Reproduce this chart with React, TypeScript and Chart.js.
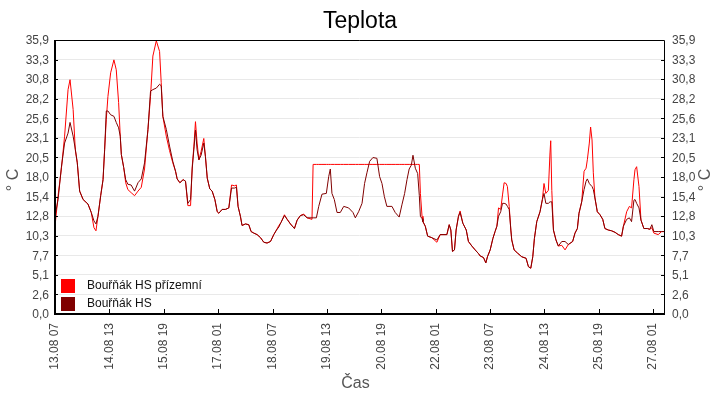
import React, { useEffect, useRef } from 'react';
import Chart from 'chart.js/auto';

// time axis: hours since 13.08 07:00, one tick every 30 h
const xTickLabels = [
  '13.08 07', '14.08 13', '15.08 19', '17.08 01', '18.08 07', '19.08 13',
  '20.08 19', '22.08 01', '23.08 07', '24.08 13', '25.08 19', '27.08 01',
];
const xTickStep = 30;
const xMax = 336;

const yTickLabels = [
  '0,0', '2,6', '5,1', '7,7', '10,3', '12,8', '15,4', '18,0',
  '20,5', '23,1', '25,6', '28,2', '30,8', '33,3', '35,9',
];
const yMax = 35.9;

const seriesNames = ['Bouřňák HS přízemní', 'Bouřňák HS'];
const seriesColors = ['#ff0000', '#800000'];

const hours = [
  0, 1.7, 3.5, 5.3, 7.2, 8.3, 10, 11.2, 12.3, 13.6, 15.5, 18.2, 20, 21.5, 22.6, 23.7,
  25.2, 26.5, 27.4, 28.3, 29.2, 30.7, 32.5, 33.8, 35.1, 36, 36.6, 37.9, 39, 40.2, 42,
  43.9, 45.8, 47.6, 49.4, 51.3, 52.7, 54, 55.9, 57.7, 58.6, 59.5, 61.4, 63.2, 65,
  66.5, 67.4, 68.9, 70.7, 72, 73.3, 74.8, 75.7, 76.6, 77.5, 78.4, 79.4, 80.6, 82.1,
  83, 84, 85.4, 86.7, 88.2, 89.5, 90.4, 92.2, 94, 95.9, 97.4, 99, 100.1, 101, 102.3,
  103.2, 105.1, 106.9, 108.2, 109.7, 111.5, 113.4, 115.2, 117, 118.9, 120.7, 122.2,
  123.5, 124.7, 126.6, 128.1, 129.9, 132.1, 133.6, 135.4, 137.2, 139.1, 141.8, 142.4,
  144.2, 145.5, 147.3, 149.7, 151, 151.9, 152.8, 154.1, 155.6, 157.4, 159.3, 162,
  164.4, 165.7, 167.5, 169.4, 170.8, 172.1, 173.6, 175.4, 177.6, 179.1, 180.4, 181.7,
  183.1, 185.9, 187.7, 189.9, 191.4, 192.9, 194.2, 195.4, 196.6, 197.5, 198.8, 200.1,
  201, 201.6, 202.5, 203, 204.3, 205.6, 207.9, 210.7, 212.5, 216.2, 217.5, 218.4,
  219.3, 220.4, 221.3, 222.6, 223.5, 225, 226.9, 228.1, 230, 231.8, 233.7, 234.6,
  236.4, 237.7, 238.6, 240.1, 241.6, 242.8, 243.8, 244.7, 245.9, 246.9, 247.8, 248.9,
  249.6, 250.6, 251.5, 252, 253.3, 255.1, 257.5, 259.9, 261.2, 262.5, 263.6, 264.5,
  265.8, 267.6, 268.9, 269.8, 270.8, 272.2, 273.1, 273.5, 274.1, 275, 276.4, 277.7,
  279.6, 281.4, 283.2, 285.6, 286.9, 288.2, 289.1, 290.6, 291.9, 293, 293.7, 294.8,
  295.5, 296.3, 297, 297.9, 299.2, 300.7, 302.2, 303.4, 305.3, 307.1, 309, 310.8,
  312.6, 313.6, 315.4, 316.9, 318.1, 319.4, 320, 320.9, 322.2, 323.3, 324.9, 326.8,
  328.2, 329.3, 330.4, 332.8, 334.7, 336,
];

// Bouřňák HS přízemní
const groundTemps = [
  11.5, 15.5, 19.0, 23.3, 29.4, 30.7, 26.8, 21.5, 19.8, 16.1, 15.0, 14.4, 13.3, 11.3, 10.9, 12.8,
  15.5, 17.6, 21.6, 25.5, 28.5, 31.6, 33.3, 32.0, 27.7, 23.3, 20.9, 19.2, 17.2, 16.3, 15.9,
  15.5, 16.1, 16.6, 19.0, 24.2, 28.5, 33.8, 35.8, 34.4, 30.3, 25.9, 23.3, 21.4, 19.8,
  18.7, 17.7, 17.2, 17.6, 17.4, 14.2, 14.2, 19.3, 21.9, 25.2, 22.4, 20.2, 21.3, 23.0,
  20.6, 17.8, 16.4, 16.1, 15.0, 13.4, 13.2, 13.7, 13.7, 13.9, 16.9, 16.8, 16.9, 14.1, 12.8,
  11.6, 11.8, 11.7, 10.8, 10.6, 10.4, 10.0, 9.4, 9.3, 9.5, 10.4, 11.0,
  11.6, 12.0, 13.0, 12.4, 11.8, 11.2, 12.3, 12.9, 13.1, 12.6, 12.4, 19.6,
  19.6, 19.6, 19.6, 19.6, 19.6, 19.6, 19.6, 19.6, 19.6, 19.6, 19.6, 19.6,
  19.6, 19.6, 19.6, 19.6, 19.6, 19.6, 19.6, 19.6, 19.6, 19.6, 19.6, 19.6,
  19.6, 19.6, 19.6, 19.6, 19.6, 19.6, 19.6, 19.6, 19.6, 19.6, 19.6, 19.6,
  19.6, 15.8, 12.8, 12.1, 11.5, 10.2, 10.0, 9.4, 10.4, 10.4, 11.7, 11.0,
  8.2, 8.4, 11.0, 12.8, 13.5, 11.9, 11.0, 9.5, 8.9, 8.4, 7.9, 7.6,
  7.4, 6.7, 7.5, 8.4, 9.9, 10.8, 11.5, 13.9, 13.7, 15.6, 17.2, 17.1,
  16.7, 14.1, 11.0, 9.7, 8.4, 8.0, 7.5, 7.3, 6.2, 6.0, 7.5, 9.9,
  12.1, 13.4, 15.0, 17.1, 15.8, 16.2, 21.1, 22.7, 16.2, 11.0, 9.7, 8.9,
  9.0, 8.4, 9.1, 9.5, 10.6, 11.2, 13.2, 14.7, 18.7, 19.1, 20.2, 22.4,
  24.5, 22.8, 18.5, 15.2, 13.4, 13.0, 12.4, 11.2, 11.0, 10.9, 10.7, 10.4,
  10.2, 11.5, 13.4, 14.1, 13.9, 17.6, 18.9, 19.3, 16.7, 12.3, 11.2, 11.2,
  11.1, 11.3, 10.6, 10.4, 10.8, 10.8,
];

// Bouřňák HS
const hsTemps = [
  12.8, 15.0, 19.2, 22.4, 23.7, 25.1, 23.3, 21.6, 19.8, 16.1, 15.0, 14.4, 13.3, 12.2, 11.8, 12.8,
  15.5, 17.6, 21.6, 26.6, 26.6, 26.1, 25.9, 25.1, 24.4, 23.3, 20.9, 19.2, 17.6, 17.0, 16.9,
  16.1, 17.2, 17.7, 19.8, 24.2, 29.2, 29.4, 29.6, 30.1, 29.9, 25.9, 24.2, 22.0, 20.0,
  18.7, 17.7, 17.2, 17.6, 17.4, 14.5, 15.0, 19.0, 21.5, 24.1, 21.5, 20.2, 20.8, 22.4,
  20.6, 17.8, 16.4, 16.1, 15.0, 13.4, 13.2, 13.7, 13.7, 13.9, 16.5, 16.5, 16.6, 14.1, 12.8,
  11.6, 11.8, 11.7, 10.8, 10.6, 10.4, 10.0, 9.4, 9.3, 9.5, 10.4, 11.0,
  11.4, 12.0, 12.9, 12.4, 11.8, 11.2, 12.3, 12.9, 13.0, 12.6, 12.6, 12.6,
  12.6, 14.1, 15.7, 15.8, 18.0, 19.0, 15.8, 15.0, 13.3, 13.3, 14.1, 13.9,
  13.3, 12.6, 13.4, 14.5, 17.1, 18.5, 20.0, 20.5, 20.4, 18.0, 17.1, 15.4,
  14.1, 14.1, 13.3, 12.7, 14.3, 15.8, 17.6, 19.0, 19.5, 20.8, 19.1, 18.4,
  15.5, 12.8, 12.5, 12.1, 11.5, 10.2, 10.0, 9.7, 10.4, 10.4, 11.7, 11.0,
  8.2, 8.4, 11.0, 12.8, 13.3, 11.9, 11.0, 9.5, 8.9, 8.4, 7.9, 7.6,
  7.4, 6.7, 7.5, 8.4, 9.9, 10.8, 11.5, 12.8, 13.4, 14.5, 14.5, 14.4,
  14.1, 13.7, 11.0, 9.7, 8.4, 8.0, 7.5, 7.3, 6.2, 6.0, 7.5, 9.9,
  12.1, 13.4, 15.0, 15.8, 14.5, 14.5, 14.7, 14.7, 14.7, 11.0, 9.7, 8.9,
  9.5, 9.5, 9.1, 9.5, 10.6, 11.2, 13.2, 14.7, 16.3, 17.4, 17.7, 17.1,
  16.9, 16.7, 16.3, 15.2, 13.4, 13.0, 12.4, 11.2, 11.0, 10.9, 10.7, 10.4,
  10.2, 11.5, 12.4, 12.6, 12.1, 14.9, 15.0, 14.5, 13.9, 12.3, 11.2, 11.2,
  11.1, 11.7, 10.8, 10.8, 10.8, 10.8,
];

const FONT = "'Liberation Sans', Arial, sans-serif";

const fixWidth = (w: number) => (scale: any) => {
  scale.width = w;
};

const framePlugin = {
  id: 'frame',
  afterDraw(chart: any) {
    const { ctx, chartArea: a, scales } = chart;
    ctx.save();
    ctx.strokeStyle = '#000';

    ctx.lineWidth = 1;
    ctx.beginPath();
    ctx.moveTo(a.left, a.top + 0.5);
    ctx.lineTo(a.right + 0.5, a.top + 0.5);
    ctx.lineTo(a.right + 0.5, a.bottom);
    ctx.stroke();

    ctx.lineWidth = 2;
    ctx.beginPath();
    ctx.moveTo(a.left, a.top);
    ctx.lineTo(a.left, a.bottom);
    ctx.lineTo(a.right + 1, a.bottom);
    ctx.stroke();

    // inward tick marks
    ctx.lineWidth = 1;
    ctx.beginPath();
    scales.x.ticks.forEach((t: any) => {
      const px = Math.round(scales.x.getPixelForValue(t.value)) + 0.5;
      ctx.moveTo(px, a.bottom);
      ctx.lineTo(px, a.bottom - 5);
    });
    scales.y.ticks.forEach((t: any) => {
      const py = Math.round(scales.y.getPixelForValue(t.value)) + 0.5;
      ctx.moveTo(a.left, py);
      ctx.lineTo(a.left + 3, py);
      ctx.moveTo(a.right, py);
      ctx.lineTo(a.right - 3, py);
    });
    ctx.stroke();

    // axis titles
    ctx.fillStyle = '#555';
    ctx.font = `16px ${FONT}`;
    ctx.textAlign = 'center';
    ctx.textBaseline = 'middle';
    const midY = (a.top + a.bottom) / 2 + 3;
    [14, 706].forEach((x) => {
      ctx.save();
      ctx.translate(x, midY);
      ctx.rotate(-Math.PI / 2);
      ctx.fillText('° C', 0, 0);
      ctx.restore();
    });
    ctx.fillText('Čas', (a.left + a.right) / 2 - 4, 384);

    // legend in the lower left corner of the plot
    ctx.font = `12px ${FONT}`;
    ctx.textAlign = 'left';
    seriesNames.forEach((name, i) => {
      const top = 279 + i * 18;
      ctx.fillStyle = seriesColors[i];
      ctx.fillRect(61, top, 14, 14);
      ctx.fillStyle = '#111';
      ctx.fillText(name, 87, top + 7);
    });
    ctx.restore();
  },
};

const TemperatureChart: React.FC = () => {
  const canvasRef = useRef<HTMLCanvasElement>(null);

  useEffect(() => {
    const canvas = canvasRef.current;
    let chart: Chart | null = null;

    if (canvas) {
      const toPoints = (vals: number[]) => hours.map((h, i) => ({ x: h, y: vals[i] }));
      chart = new Chart(canvas, {
        type: 'line',
        data: {
          datasets: [
            {
              label: seriesNames[0],
              data: toPoints(groundTemps),
              borderColor: seriesColors[0],
              borderWidth: 1,
              pointRadius: 0,
              tension: 0,
              order: 2,
            },
            {
              label: seriesNames[1],
              data: toPoints(hsTemps),
              borderColor: seriesColors[1],
              borderWidth: 1,
              pointRadius: 0,
              tension: 0,
              order: 1,
            },
          ],
        },
        options: {
          responsive: false,
          animation: false,
          devicePixelRatio: 1,
          layout: { padding: 0 },
          plugins: {
            legend: { display: false },
            tooltip: { enabled: false },
            title: {
              display: true,
              text: 'Teplota',
              color: '#000',
              font: { family: FONT, size: 23, weight: 'normal' },
              padding: { top: 8, bottom: 4.4 },
            },
          },
          scales: {
            x: {
              type: 'linear',
              min: 0,
              max: xMax,
              afterBuildTicks: (scale: any) => {
                scale.ticks = xTickLabels.map((_, i) => ({ value: i * xTickStep }));
              },
              afterFit: (scale: any) => {
                scale.height = 86;
              },
              border: { display: false },
              grid: { display: false, drawTicks: false },
              ticks: {
                autoSkip: false,
                minRotation: 90,
                maxRotation: 90,
                padding: 9,
                color: '#444',
                font: { family: FONT, size: 12 },
                callback: (_v: any, i: number) => xTickLabels[i],
              },
            },
            y: {
              type: 'linear',
              position: 'left',
              min: 0,
              max: yMax,
              afterBuildTicks: (scale: any) => {
                scale.ticks = yTickLabels.map((_, i) => ({ value: (i * yMax) / 14 }));
              },
              afterFit: fixWidth(55),
              border: { display: false },
              grid: { color: '#e9e9e9', lineWidth: 1, drawTicks: false },
              ticks: {
                padding: 6,
                labelOffset: 1,
                color: '#444',
                font: { family: FONT, size: 12 },
                callback: (_v: any, i: number) => yTickLabels[i],
              },
            },
            y2: {
              type: 'linear',
              position: 'right',
              min: 0,
              max: yMax,
              afterBuildTicks: (scale: any) => {
                scale.ticks = yTickLabels.map((_, i) => ({ value: (i * yMax) / 14 }));
              },
              afterFit: fixWidth(56),
              border: { display: false },
              grid: { display: false, drawTicks: false },
              ticks: {
                padding: 8,
                labelOffset: 1,
                color: '#444',
                font: { family: FONT, size: 12 },
                callback: (_v: any, i: number) => yTickLabels[i],
              },
            },
          },
        },
        plugins: [framePlugin],
      } as any);
    }

    return () => {
      if (chart) {
        chart.destroy();
      }
    };
  }, []);

  return (
    <div style={{ position: 'fixed', left: 0, top: 0, width: 720, height: 400, background: '#fff' }}>
      <canvas ref={canvasRef} width={720} height={400} style={{ display: 'block' }}></canvas>
    </div>
  );
};

export default function App() {
  return <TemperatureChart />;
}
